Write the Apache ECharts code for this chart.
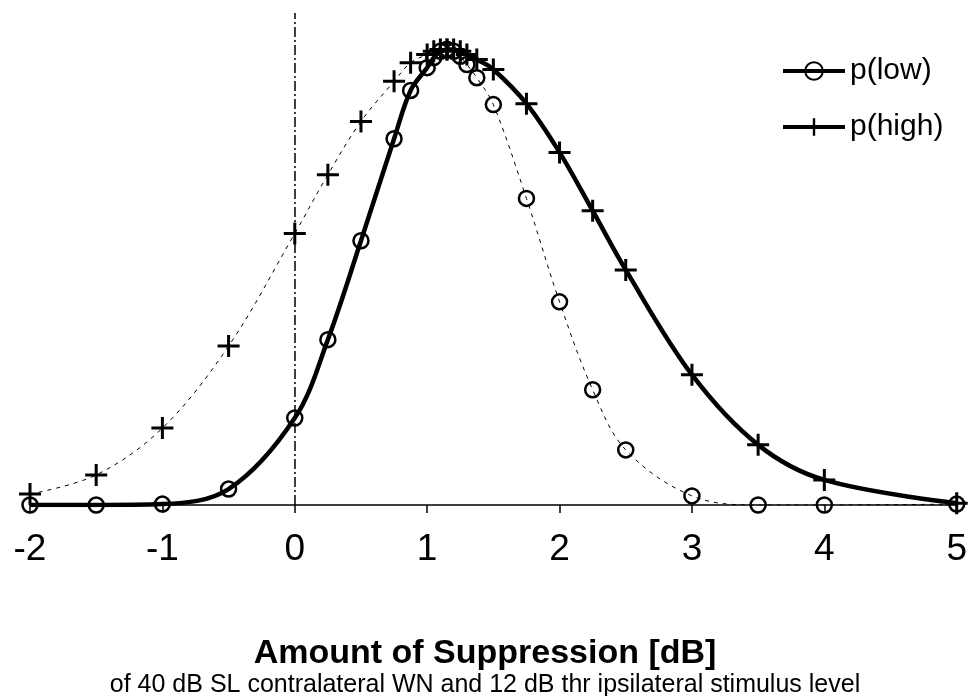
<!DOCTYPE html>
<html><head><meta charset="utf-8">
<script src="https://cdn.jsdelivr.net/npm/echarts@6/dist/echarts.min.js"></script>
<style>html,body{margin:0;padding:0;background:#fff}#c{width:970px;height:696px}</style>
</head><body><div id="c"></div>
<script>
// x positions (dB)
const xValues = [-2,-1.5,-1,-0.5,0,0.25,0.5,0.75,0.875,1,1.05,1.1,1.15,1.2,1.25,1.3,1.375,1.5,1.75,2,2.25,2.5,3,3.5,4,5];
// relative probability (% of peak)
const pLow  = [0,0,0.2,3.5,19.1,36.3,58.0,80.4,91.0,96.0,98.2,99.6,100,99.6,98.5,96.7,93.8,87.9,67.3,44.6,25.3,12.1,2.0,0,0,0.2];
const pHigh = [2.4,6.6,16.9,34.9,59.6,72.5,84.2,93.0,97.1,98.9,99.6,100,100,100,99.6,98.9,97.8,95.6,88.1,77.4,64.6,51.6,28.6,13.2,5.5,0.4];
const xTicks = [-2,-1,0,1,2,3,4,5];
const peakIndex = 12;
const titleText = 'Amount of Suppression [dB]';
const subText = 'of 40 dB SL contralateral WN and 12 dB thr ipsilateral stimulus level';

const pairs = (ys, a, b) => xValues.slice(a, b).map((x, i) => [x, ys[a + i]]);
const plus = 'path://M9.5,0h3v9.5h9.5v3h-9.5v9.5h-3v-9.5h-9.5v-3h9.5z';
const circleStyle = {color: 'rgba(0,0,0,0)', borderColor: '#000', borderWidth: 2.5};
const plusStyle = {color: '#000', borderWidth: 0};
const FONT = 'Liberation Sans, Arial, sans-serif';

const chart = echarts.init(document.getElementById('c'));
chart.setOption({
  animation: false,
  backgroundColor: '#fff',
  textStyle: {fontFamily: FONT, color: '#000'},
  grid: {left: 30, right: 12, top: 13, bottom: 191, containLabel: false},
  title: {
    text: titleText, subtext: subText, left: 'center', top: 632, itemGap: 2,
    textStyle: {fontFamily: FONT, fontWeight: 'bold', fontSize: 34, color: '#000'},
    subtextStyle: {fontFamily: FONT, fontSize: 25, color: '#000'}
  },
  legend: {
    data: ['p(low)', 'p(high)'], orient: 'vertical', left: 776, top: 51,
    itemWidth: 62, itemHeight: 22, itemGap: 26,
    lineStyle: {width: 4},
    textStyle: {fontSize: 30, color: '#000', fontFamily: FONT}
  },
  xAxis: {
    type: 'value', min: -2, max: 5, interval: 1,
    axisLine: {show: true, onZero: false, lineStyle: {color: '#000', width: 1.5}},
    axisTick: {show: true, length: 8, lineStyle: {color: '#000', width: 1.5}},
    splitLine: {show: false},
    axisLabel: {fontSize: 37, color: '#000', margin: 26, formatter: v => xTicks.includes(v) ? String(v) : ''}
  },
  yAxis: {type: 'value', min: 0, max: 108, show: false, splitLine: {show: false}},
  series: [
    {name: 'p(low)', type: 'line', smooth: 0.35, data: pairs(pLow, 0, peakIndex + 1),
     symbol: 'circle', symbolSize: 15, itemStyle: circleStyle,
     lineStyle: {color: '#000', width: 4.5}, z: 3,
     markLine: {silent: true, symbol: 'none', label: {show: false},
       lineStyle: {color: '#000', width: 1.5, type: [10, 3, 2, 3]}, data: [{xAxis: 0}]}},
    {name: 'p(high)', type: 'line', smooth: 0.35, data: pairs(pHigh, peakIndex, xValues.length),
     symbol: plus, symbolSize: 22, itemStyle: plusStyle,
     lineStyle: {color: '#000', width: 4.5}, z: 3},
    {name: 'p(low) fit', type: 'line', smooth: 0.35, data: pairs(pLow, peakIndex, xValues.length),
     symbol: 'circle', symbolSize: 15, itemStyle: circleStyle,
     lineStyle: {color: '#000', width: 1, type: [4, 5]}, z: 2},
    {name: 'p(high) fit', type: 'line', smooth: 0.35, data: pairs(pHigh, 0, peakIndex + 1),
     symbol: plus, symbolSize: 22, itemStyle: plusStyle,
     lineStyle: {color: '#000', width: 1, type: [4, 5]}, z: 2}
  ]
});
</script>
</body></html>
